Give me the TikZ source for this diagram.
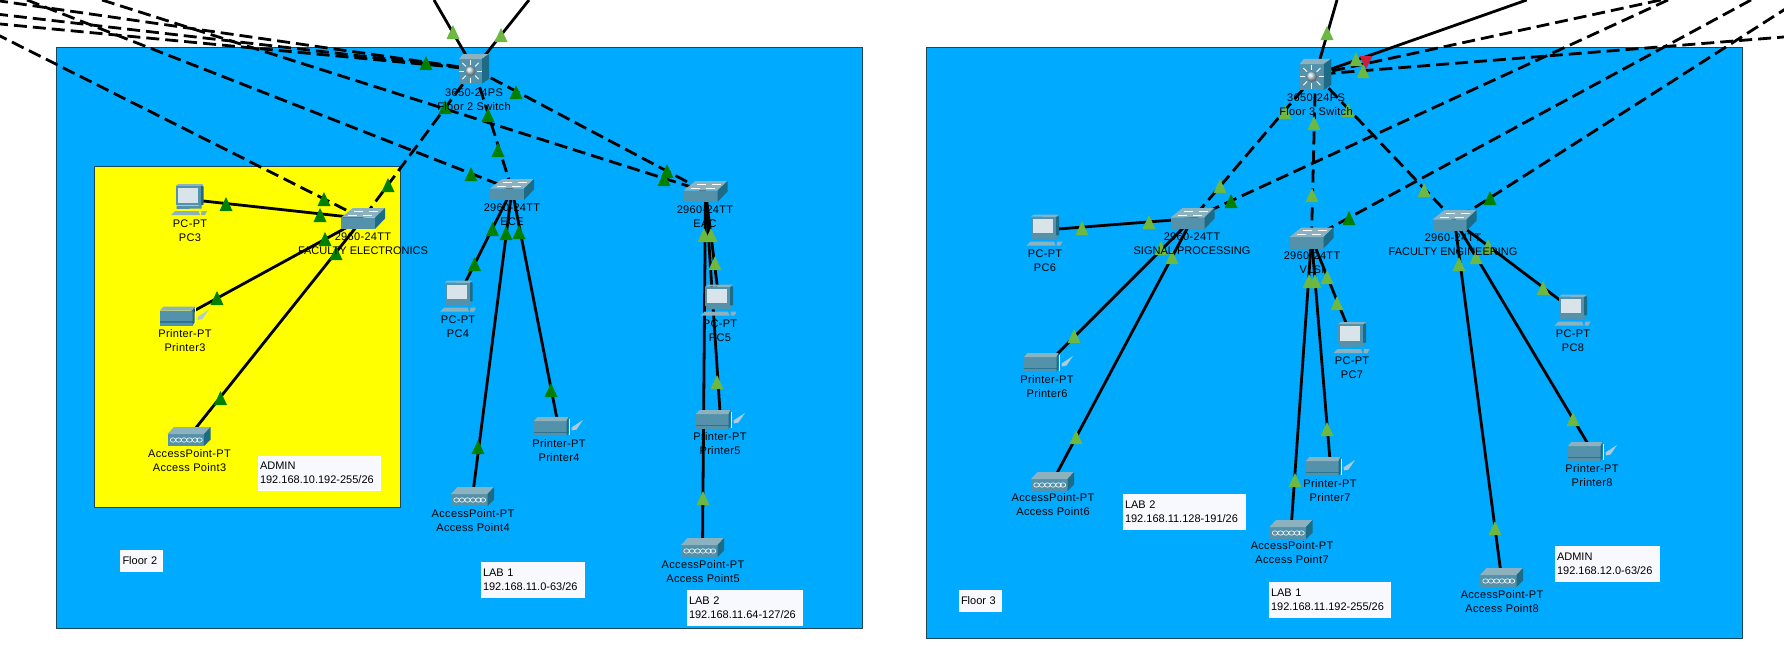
\documentclass[tikz,border=0pt]{standalone}
\usepackage{fontspec}
\setmainfont{Liberation Sans}
\newfontfamily\spacedfam[LetterSpace=3]{Liberation Sans}
\usetikzlibrary{shadings,calc}
\definecolor{floorblue}{RGB}{0,170,255}
\definecolor{adminyellow}{RGB}{255,255,0}
\definecolor{edgedark}{RGB}{30,70,90}
\definecolor{labelbg}{RGB}{248,249,255}
\definecolor{ledlight}{RGB}{108,184,64}
\definecolor{leddark}{RGB}{0,128,0}
\definecolor{ledred}{RGB}{205,30,60}
\definecolor{frontc}{RGB}{84,145,170}
\definecolor{topc}{RGB}{140,178,192}
\definecolor{sidec}{RGB}{28,108,136}
\definecolor{screenc}{RGB}{216,228,234}
\pgfdeclarelayer{floors}
\pgfdeclarelayer{edges}
\pgfdeclarelayer{leds}
\pgfdeclarelayer{labels}
\pgfsetlayers{floors,edges,leds,main,labels}
\tikzset{
  x=1pt,y=-1pt,
  anchorbox/.style={inner sep=0pt,outer sep=0pt,minimum width=2pt,minimum height=2pt},
  floorbox/.style={fill=floorblue,draw=edgedark,line width=0.9pt},
  adminbox/.style={fill=adminyellow,draw=edgedark,line width=0.9pt},
  slink/.style={draw=black,line width=2.8pt},
  dlink/.style={draw=black,line width=2.8pt,dash pattern=on 13pt off 6pt},
  devlabel/.style={font=\spacedfam\fontsize{11}{14}\selectfont,align=center,inner sep=0pt,text=black},
  infobox/.style={font=\fontsize{11}{14}\selectfont,fill=labelbg,draw=white,line width=0.5pt,align=left,inner sep=0pt,text=black},
}
% name, x, y, label, label x, label y
\newcommand\swicon[6]{%
  \node[anchorbox] (#1) at (#2,#3) {};
  \begin{scope}[shift={(#2,#3)}]
    \fill[frontc] (-22,-1) -- (12,-1) -- (12,10.5) -- (-22,10.5) -- cycle;
    \fill[topc] (-22,-1) -- (-10,-10.5) -- (22,-10.5) -- (12,-1) -- cycle;
    \fill[sidec] (12,-1) -- (22,-10.5) -- (22,0) -- (12,10.5) -- cycle;
    \draw[white,line width=0.7pt] (-15,-3.5) -- (-6,-3.5) (0,-3.5) -- (9,-3.5) (-9,-7.5) -- (0,-7.5) (6,-7.5) -- (15,-7.5);
  \end{scope}
  \begin{pgfonlayer}{labels}\node[devlabel] (#1-l) at (#5,#6) {#4};\end{pgfonlayer}%
}
\newcommand\mlsicon[7]{%
  \node[anchorbox] (#1) at (#2,#3) {};
  \begin{scope}[shift={(#2,#3)},scale=#7]
    \fill[frontc] (-15,-10) -- (8,-10) -- (8,14.5) -- (-15,14.5) -- cycle;
    \fill[topc] (-15,-10) -- (-11,-15) -- (15,-15) -- (8,-10) -- cycle;
    \fill[sidec] (8,-10) -- (15,-15) -- (15,10) -- (8,14.5) -- cycle;
    \foreach \a in {0,45,...,315}
      \draw[white,line width=0.9pt] ($(-3.5,2)+(\a:6.5)$) -- ($(-3.5,2)+(\a:11.5)$);
    \shade[ball color=screenc!80!frontc] (-3.5,2) circle[radius=5];
  \end{scope}
  \begin{pgfonlayer}{labels}\node[devlabel] (#1-l) at (#5,#6) {#4};\end{pgfonlayer}%
}
\newcommand\pcicon[6]{%
  \node[anchorbox] (#1) at (#2,#3) {};
  \begin{scope}[shift={(#2,#3)}]
    \fill[sidec] (11,-15.5) -- (14,-13) -- (14,5) -- (11,6) -- cycle;
    \fill[topc] (-14,-13.5) -- (-11,-15.5) -- (14,-15.5) -- (11,-13) -- cycle;
    \fill[frontc] (-14,-13.5) -- (11,-13.5) -- (11,5.5) -- (-14,5.5) -- cycle;
    \fill[screenc] (-12,-11.5) -- (8,-11.5) -- (8,3) -- (-12,3) -- cycle;
    \fill[frontc] (-13,6) -- (9,6) -- (12,5) -- (12,9) -- (-13,9.5) -- cycle;
    \fill[topc] (-14.5,11.5) -- (9,11.5) -- (10.5,15.5) -- (-18.5,15.5) -- cycle;
    \fill[topc] (12,11.5) -- (17.5,11.5) -- (15.5,15.5) -- (11.5,15.5) -- cycle;
  \end{scope}
  \begin{pgfonlayer}{labels}\node[devlabel] (#1-l) at (#5,#6) {#4};\end{pgfonlayer}%
}
\newcommand\prnicon[6]{%
  \node[anchorbox] (#1) at (#2,#3) {};
  \begin{scope}[shift={(#2,#3)}]
    \fill[frontc] (-24.5,-5.5) -- (8,-5.5) -- (8,9.5) -- (-24.5,9.5) -- cycle;
    \fill[sidec!75!frontc] (-24.5,5) -- (8,5) -- (8,6.5) -- (-24.5,6.5) -- cycle;
    \fill[topc] (-24.5,-5.5) -- (-21,-9.5) -- (10,-9.5) -- (8,-5.5) -- cycle;
    \fill[sidec] (8,-5.5) -- (10,-9.5) -- (10,6.5) -- (8,9.5) -- cycle;
    \draw[white,line width=0.6pt] (11,-8) -- (11,8);
    \fill[screenc!70!frontc] (13,1) -- (24.5,-6.5) -- (18,3) -- (13.5,4) -- cycle;
  \end{scope}
  \begin{pgfonlayer}{labels}\node[devlabel] (#1-l) at (#5,#6) {#4};\end{pgfonlayer}%
}
\newcommand\apicon[6]{%
  \node[anchorbox] (#1) at (#2,#3) {};
  \begin{scope}[shift={(#2,#3)}]
    \fill[frontc] (-21.5,-2.5) -- (15,-2.5) -- (15,9.5) -- (-21.5,9.5) -- cycle;
    \fill[topc] (-21.5,-2.5) -- (-15,-9.5) -- (21.5,-9.5) -- (15,-2.5) -- cycle;
    \fill[sidec] (15,-2.5) -- (21.5,-9.5) -- (21.5,3) -- (15,9.5) -- cycle;
    \foreach \k in {-16,-10.5,-5,0.5,6,10.5}
      \draw[white,line width=0.6pt] (\k,3.5) circle[x radius=2.8,y radius=2.2];
  \end{scope}
  \begin{pgfonlayer}{labels}\node[devlabel] (#1-l) at (#5,#6) {#4};\end{pgfonlayer}%
}
\newcommand\led[3]{\fill[#3] ({#1-6.5},{#2+7}) -- (#1,{#2-7}) -- ({#1+6.5},{#2+7}) -- cycle;}
\newcommand\ledinv[3]{\fill[#3] ({#1-6.5},{#2-6}) -- ({#1+6.5},{#2-6}) -- (#1,{#2+7}) -- cycle;}
\begin{document}
\begin{tikzpicture}
\useasboundingbox (0,0) rectangle (1784,646);
\begin{pgfonlayer}{floors}
  \fill[white] (0,0) rectangle (1784,646);
  \draw[floorbox] (56,47) rectangle (862,628);
  \draw[adminbox] (94.5,166) rectangle (400,507);
  \draw[floorbox] (926,47) rectangle (1742,638);
\end{pgfonlayer}

% Devices, floor 2
\mlsicon{F2S}{474}{69}{3650-24PS\\Floor 2 Switch}{474}{100}{1}
\swicon{FE}{363}{218.5}{2960-24TT\\\rmfamily FACULTY ELECTRONICS}{363}{244}
\swicon{ECE}{512}{189.5}{2960-24TT\\ECE}{512}{215}
\swicon{EAC}{705.5}{191.5}{2960-24TT\\EAC}{705}{217}
\pcicon{PC3}{189.5}{199.5}{PC-PT\\PC3}{190}{230.5}
\pcicon{PC4}{458.5}{296}{PC-PT\\PC4}{458}{327}
\pcicon{PC5}{719}{300}{PC-PT\\PC5}{720}{331}
\prnicon{P3}{184.5}{316}{Printer-PT\\Printer3}{185}{341}
\prnicon{P4}{558.5}{426.5}{Printer-PT\\Printer4}{559}{451}
\prnicon{P5}{720.5}{419.5}{Printer-PT\\Printer5}{720}{444}
\apicon{AP3}{189}{436.5}{AccessPoint-PT\\Access Point3}{189.5}{461}
\apicon{AP4}{472.5}{496.5}{AccessPoint-PT\\Access Point4}{473}{521}
\apicon{AP5}{702.5}{547.5}{AccessPoint-PT\\Access Point5}{703}{572}
% Devices, floor 3
\mlsicon{F3S}{1315.5}{74.5}{3650-24PS\\Floor 3 Switch}{1316}{105}{1.05}
\swicon{SP}{1192.5}{218.5}{2960-24TT\\\rmfamily SIGNAL PROCESSING}{1192}{244}
\swicon{VL}{1311.5}{238}{2960-24TT\\VLSI}{1312}{263}
\swicon{FEN}{1454.5}{220.5}{2960-24TT\\\rmfamily FACULTY ENGINEERING}{1453}{245}
\pcicon{PC6}{1045}{230}{PC-PT\\PC6}{1045}{261}
\pcicon{PC7}{1352}{337.5}{PC-PT\\PC7}{1352}{368}
\pcicon{PC8}{1573}{310}{PC-PT\\PC8}{1573}{341}
\prnicon{P6}{1048.5}{362.5}{Printer-PT\\Printer6}{1047}{387}
\prnicon{P7}{1330.5}{466.5}{Printer-PT\\Printer7}{1330}{491}
\prnicon{P8}{1592.5}{451.5}{Printer-PT\\Printer8}{1592}{476}
\apicon{AP6}{1052.5}{481.5}{AccessPoint-PT\\Access Point6}{1053}{505}
\apicon{AP7}{1291}{529.5}{AccessPoint-PT\\Access Point7}{1292}{553}
\apicon{AP8}{1501.5}{577.5}{AccessPoint-PT\\Access Point8}{1502}{602}

% Free ends of the links leaving the picture
\coordinate (t1) at (434,0);
\coordinate (t2) at (529,0);
\coordinate (l1) at (-5,0.3);
\coordinate (l2) at (-5,13.9);
\coordinate (l3) at (-5,23.5);
\coordinate (l4) at (27,0);
\coordinate (l5) at (102,0);
\coordinate (l6) at (-5,33.5);
\coordinate (t3) at (1337,0);
\coordinate (r1) at (1526.7,0);
\coordinate (r2) at (1660.7,0);
\coordinate (r3) at (1790,36.5);
\coordinate (r4) at (1668,0);
\coordinate (r5) at (1751,0);
\coordinate (r6) at (1790,6);

\begin{pgfonlayer}{edges}
  \draw[slink] (t1) -- (F2S.center);
  \draw[slink] (t2) -- (F2S.center);
  \draw[dlink] (l1) -- (F2S.center);
  \draw[dlink] (l2) -- (F2S.center);
  \draw[dlink] (l3) -- (F2S.center);
  \draw[dlink] (l4) -- (ECE.center);
  \draw[dlink] (l5) -- (EAC.center);
  \draw[dlink] (l6) -- (FE.center);
  \draw[dlink] (F2S.center) -- (FE.center);
  \draw[dlink] (F2S.center) -- (ECE.center);
  \draw[dlink] (F2S.center) -- (EAC.center);
  \draw[slink] (FE.center) -- (PC3.center);
  \draw[slink] (FE.center) -- (P3.center);
  \draw[slink] (FE.center) -- (AP3.center);
  \draw[slink] (ECE.center) -- (PC4.center);
  \draw[slink] (ECE.center) -- (P4.center);
  \draw[slink] (ECE.center) -- (AP4.center);
  \draw[slink] (EAC.center) -- (PC5.center);
  \draw[slink] (EAC.center) -- (P5.center);
  \draw[slink] (EAC.center) -- (AP5.center);
  \draw[slink] (t3) -- (F3S.center);
  \draw[slink] (r1) -- (F3S.center);
  \draw[dlink] (r2) -- (F3S.center);
  \draw[dlink] (r3) -- (F3S.center);
  \draw[dlink] (r4) -- (SP.center);
  \draw[dlink] (r5) -- (VL.center);
  \draw[dlink] (r6) -- (FEN.center);
  \draw[dlink] (F3S.center) -- (SP.center);
  \draw[dlink] (F3S.center) -- (VL.center);
  \draw[dlink] (F3S.center) -- (FEN.center);
  \draw[slink] (SP.center) -- (PC6.center);
  \draw[slink] (SP.center) -- (P6.center);
  \draw[slink] (SP.center) -- (AP6.center);
  \draw[slink] (VL.center) -- (PC7.center);
  \draw[slink] (VL.center) -- (P7.center);
  \draw[slink] (VL.center) -- (AP7.center);
  \draw[slink] (FEN.center) -- (PC8.center);
  \draw[slink] (FEN.center) -- (P8.center);
  \draw[slink] (FEN.center) -- (AP8.center);
\end{pgfonlayer}

\begin{pgfonlayer}{leds}
  \led{453}{32}{ledlight} \led{501}{35}{ledlight}
  \led{426}{63}{leddark} \led{516}{92}{leddark} \led{445}{107}{leddark}
  \led{488}{115}{leddark} \led{498}{150}{leddark} \led{471}{174}{leddark}
  \led{388}{185}{leddark} \led{324}{199}{leddark} \led{320}{215}{leddark}
  \led{226}{204}{leddark} \led{325}{239}{leddark} \led{336}{253}{leddark}
  \led{217}{298}{leddark} \led{220.5}{398}{leddark}
  \led{492.5}{229}{leddark} \led{506}{233}{leddark} \led{519}{232}{leddark}
  \led{474.5}{264}{leddark} \led{478}{447}{leddark} \led{551}{390}{leddark}
  \led{667}{171}{leddark} \led{664}{179}{leddark}
  \led{704}{235}{ledlight} \led{711}{235}{ledlight} \led{715}{263}{ledlight}
  \led{717}{382}{ledlight} \led{703}{498}{ledlight}
  \led{1327}{33}{ledlight} \led{1356}{59}{ledlight} \ledinv{1366}{62}{ledred}
  \led{1363}{71}{ledlight} \led{1285}{112}{ledlight} \led{1348}{110}{ledlight}
  \led{1314}{123}{ledlight} \led{1220}{186}{ledlight} \led{1312}{195}{ledlight}
  \led{1231}{201}{leddark} \led{1149}{222}{ledlight} \led{1082}{228}{ledlight}
  \led{1161}{248}{ledlight} \led{1172}{257}{ledlight}
  \led{1309}{281}{ledlight} \led{1315}{281}{ledlight} \led{1327}{277}{ledlight}
  \led{1337}{303}{ledlight} \led{1349}{218}{leddark}
  \led{1424}{190}{ledlight} \led{1490}{198}{leddark}
  \led{1488}{246}{ledlight} \led{1476}{257}{ledlight} \led{1459}{264}{ledlight}
  \led{1543}{288}{ledlight}
  \led{1074}{336}{ledlight} \led{1076}{437}{ledlight} \led{1295}{480}{ledlight}
  \led{1327}{429}{ledlight} \led{1495}{528}{ledlight} \led{1573}{419}{ledlight}
\end{pgfonlayer}

\begin{pgfonlayer}{labels}
  \node[infobox,minimum width=122pt,minimum height=34pt,text width=118pt] (note-admin2) at (319,473) {ADMIN\\192.168.10.192-255/26};
  \node[infobox,minimum width=42pt,minimum height=21pt,text width=38pt] (note-floor2) at (141.5,560.5) {Floor 2};
  \node[infobox,minimum width=103pt,minimum height=35pt,text width=99pt] (note-lab1f2) at (532.5,579.5) {LAB 1\\192.168.11.0-63/26};
  \node[infobox,minimum width=115pt,minimum height=35pt,text width=111pt] (note-lab2f2) at (744.5,607.5) {LAB 2\\192.168.11.64-127/26};
  \node[infobox,minimum width=122pt,minimum height=35pt,text width=118pt] (note-lab2f3) at (1184,511.5) {LAB 2\\192.168.11.128-191/26};
  \node[infobox,minimum width=121pt,minimum height=35pt,text width=117pt] (note-lab1f3) at (1329.5,599.5) {LAB 1\\192.168.11.192-255/26};
  \node[infobox,minimum width=104pt,minimum height=35pt,text width=100pt] (note-adminf3) at (1607,563.5) {ADMIN\\192.168.12.0-63/26};
  \node[infobox,minimum width=42pt,minimum height=21pt,text width=38pt] (note-floor3) at (980,600.5) {Floor 3};
\end{pgfonlayer}
\end{tikzpicture}
\end{document}
